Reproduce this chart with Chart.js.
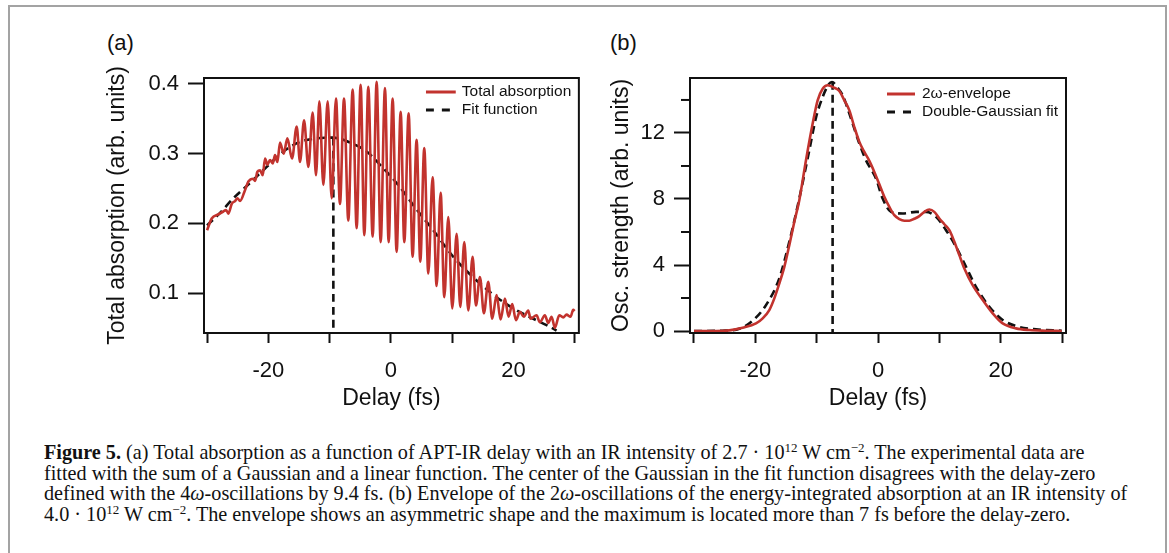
<!DOCTYPE html>
<html>
<head>
<meta charset="utf-8">
<title>Figure 5</title>
<script src="https://cdn.jsdelivr.net/npm/chart.js@4.4.1/dist/chart.umd.min.js"></script>
<style>
  html, body { margin: 0; padding: 0; background: #fff; }
  body { width: 1169px; height: 553px; position: relative; overflow: hidden;
         font-family: 'Liberation Sans', Arial, sans-serif; color: #111; }
  .frame { position: absolute; left: 8px; top: 5px; width: 1155px; height: 600px; border: 2px solid #a3a3a3; }
  canvas { position: absolute; top: 0; }
  #chartA { left: 0; }
  #chartB { left: 590px; }
  .tag { position: absolute; top: 30px; font-size: 22px; line-height: 26px; }
  .caption { position: absolute; left: 44px; top: 442px; font-family: 'Liberation Serif', 'Times New Roman', serif;
             font-size: 20.2px; line-height: 20.5px; white-space: nowrap; color: #111; }
  .caption sup { font-size: 13px; vertical-align: 7px; line-height: 0; }
</style>
</head>
<body>
<div class="frame"></div>
<div class="tag" style="left:107px">(a)</div>
<div class="tag" style="left:610px">(b)</div>
<canvas id="chartA" width="590" height="420"></canvas>
<canvas id="chartB" width="579" height="420"></canvas>
<div class="caption">
  <div><b>Figure 5.</b> (a) Total absorption as a function of APT-IR delay with an IR intensity of 2.7 · 10<sup>12</sup> W cm<sup>−2</sup>. The experimental data are</div>
  <div>fitted with the sum of a Gaussian and a linear function. The center of the Gaussian in the fit function disagrees with the delay-zero</div>
  <div>defined with the 4<i>ω</i>-oscillations by 9.4 fs. (b) Envelope of the 2<i>ω</i>-oscillations of the energy-integrated absorption at an IR intensity of</div>
  <div>4.0 · 10<sup>12</sup> W cm<sup>−2</sup>. The envelope shows an asymmetric shape and the maximum is located more than 7 fs before the delay-zero.</div>
</div>
<script>
// Figure 5 - two panels, delay scans

const INK = '#111';
const RED = '#c2332e';

// Panel (a): total absorption (peaks / troughs)
const delayA = [
    -30.00, -29.24, -28.15, -27.34, -26.90, -26.52, -25.98, -25.43, -25.05, -24.62,
    -23.80, -23.26, -22.45, -22.17, -21.79, -21.36, -20.92, -20.54, -20.16, -19.73,
    -19.29, -18.91, -18.53,
    -18.10, -17.50, -16.90, -16.14, -15.38, -14.84, -14.18, -13.48, -12.77, -12.23,
    -11.68, -11.03, -10.33, -9.67, -8.97, -8.32, -7.66, -6.96, -6.25, -5.60,
    -4.95, -4.35, -3.70, -2.99, -2.34, -1.68, -0.98, -0.38, 0.27, 0.92,
    1.58, 2.17, 2.88, 3.53, 4.18, 4.78, 5.43, 6.09, 6.79, 7.45,
    8.10, 8.70, 9.35, 10.00, 10.71, 11.30, 11.96, 12.61, 13.32, 13.86,
    14.51, 15.16, 15.87, 16.52, 17.23, 17.88, 18.59, 19.18, 19.78, 20.38,
    21.03, 21.68, 22.39, 22.77, 23.75, 24.29, 25.11, 25.65, 26.20, 26.74,
    27.45, 28.10, 28.64, 29.29, 29.73, 29.95
];
const absorptionA = [
    0.190, 0.207, 0.213, 0.217, 0.219, 0.214, 0.228, 0.232, 0.236, 0.232,
    0.248, 0.260, 0.264, 0.261, 0.274, 0.276, 0.269, 0.293, 0.284, 0.291,
    0.286, 0.298, 0.288,
    0.316, 0.300, 0.322, 0.293, 0.339, 0.288, 0.348, 0.281, 0.359, 0.269,
    0.375, 0.255, 0.375, 0.236, 0.379, 0.228, 0.379, 0.204, 0.392, 0.193,
    0.399, 0.183, 0.396, 0.181, 0.403, 0.173, 0.394, 0.173, 0.379, 0.159,
    0.360, 0.173, 0.358, 0.152, 0.320, 0.145, 0.308, 0.128, 0.266, 0.110,
    0.244, 0.094, 0.209, 0.078, 0.185, 0.080, 0.173, 0.075, 0.152, 0.082,
    0.123, 0.071, 0.116, 0.063, 0.097, 0.062, 0.092, 0.066, 0.084, 0.061,
    0.073, 0.066, 0.075, 0.063, 0.068, 0.058, 0.068, 0.057, 0.066, 0.050,
    0.068, 0.065, 0.069, 0.066, 0.076, 0.074
];
const fitDelayA = [
    -30.00, -27.88, -25.71, -22.99, -20.27, -17.55, -14.84, -12.12, -9.40, -6.68,
    -3.97, -1.25, 1.47, 3.64, 6.90, 10.16, 13.97, 17.23, 19.95, 23.21, 25.38, 27.01
];
const fitA = [
    0.197, 0.215, 0.236, 0.258, 0.281, 0.303, 0.317, 0.322, 0.323, 0.316,
    0.303, 0.279, 0.252, 0.226, 0.190, 0.152, 0.118, 0.094, 0.078, 0.063, 0.054, 0.046
];
// center of the Gaussian (vertical marker)
const centerDelayA = [-9.4, -9.4];
const centerLevelA = [0.323, 0.0426];

// Panel (b): 2ω-envelope and double-Gaussian fit
const delayB = [
    -30.00, -26.41, -24.24, -22.07, -19.89, -18.80, -17.72, -16.90, -16.09, -15.27,
    -14.46, -13.64, -12.83, -11.74, -10.65, -9.84, -9.02, -8.21, -7.12, -6.30,
    -5.49, -4.67, -3.86, -3.04, -2.23, -1.41, -0.60, 0.22, 1.03, 1.85,
    2.66, 3.48, 4.29, 5.11, 5.92, 6.74, 7.55, 8.37, 9.18, 10.00,
    10.82, 11.63, 12.45, 13.26, 14.08, 15.43, 17.07, 18.70, 20.33, 22.50,
    24.67, 27.39, 29.95
];
const envelopeB = [
    0, 0, 0.04, 0.20, 0.46, 0.77, 1.27, 1.98, 2.88, 3.89,
    5.20, 6.62, 7.93, 10.35, 12.57, 13.98, 14.68, 14.89, 14.74, 14.54,
    13.98, 13.37, 12.36, 11.46, 10.85, 10.31, 9.64, 8.89, 8.13, 7.52,
    7.02, 6.78, 6.68, 6.68, 6.80, 6.96, 7.22, 7.36, 7.22, 6.82,
    6.47, 6.11, 5.41, 4.60, 3.79, 2.78, 1.88, 1.07, 0.46, 0.16,
    0.06, 0.02, 0
];
const fitDelayB = [
    -30.00, -25.33, -22.61, -20.43, -18.26, -16.09, -14.46, -12.83, -11.20, -10.11,
    -9.02, -8.04, -7.50, -6.58, -5.76, -4.67, -3.04, -1.96, -0.33, 0.76,
    2.12, 4.02, 6.20, 7.83, 9.46, 11.09, 12.72, 14.35, 15.98, 18.15,
    20.33, 22.50, 25.76, 29.95
];
const fitB = [
    0, 0.02, 0.14, 0.63, 1.57, 3.19, 5.41, 8.03, 10.95, 12.93,
    14.18, 14.95, 15.09, 14.74, 14.28, 13.17, 11.36, 10.35, 9.24, 8.03,
    7.22, 7.12, 7.22, 7.22, 6.92, 6.11, 5.10, 3.89, 2.68, 1.47,
    0.67, 0.30, 0.10, 0.02
];
const centerDelayB = [-7.4, -7.4];
const centerLevelB = [15.09, -0.12];

// Axes
const xTicks = [-30, -20, -10, 0, 10, 20, 30];
const xLabels = [-20, 0, 20];
const yTicksA = [0.1, 0.2, 0.3, 0.4];
const yTicksB = [0, 4, 8, 12];
const yMinorB = [2, 6, 10, 14];

Chart.defaults.font.family = "'Liberation Sans', Arial, sans-serif";
Chart.defaults.color = INK;

function points(xs, ys) {
    return xs.map((x, i) => ({ x: x, y: ys[i] }));
}

/**
 * Box around the plot area, minor ticks and the inset legend
 */
const boxPlugin = {
    id: 'boxPlugin',
    afterDatasetsDraw(chart, args, opts) {
        const { ctx, chartArea: a } = chart;
        ctx.save();
        ctx.strokeStyle = INK;
        ctx.lineWidth = 2;
        ctx.strokeRect(a.left, a.top, a.right - a.left, a.bottom - a.top);

        const ys = chart.scales.y;
        (opts.minor || []).forEach(v => {
            const py = ys.getPixelForValue(v);
            ctx.beginPath();
            ctx.moveTo(a.left - 9, py);
            ctx.lineTo(a.left, py);
            ctx.stroke();
        });

        // legend
        const lg = opts.legend;
        ctx.font = '15.5px ' + Chart.defaults.font.family;
        ctx.textBaseline = 'middle';
        ctx.fillStyle = INK;
        let row = 0;
        chart.data.datasets.forEach(ds => {
            if (!ds.label) return;
            const y = a.top + lg.top + row * 18;
            const x0 = a.right - lg.sample;
            const x1 = x0 + lg.sampleWidth;
            ctx.save();
            ctx.beginPath();
            ctx.rect(x0, y - 5, lg.sampleWidth, 10);
            ctx.clip();
            ctx.strokeStyle = ds.borderColor;
            ctx.lineWidth = 3;
            ctx.setLineDash(ds.borderDash ? [8, 8] : []);
            ctx.beginPath();
            ctx.moveTo(x0, y);
            ctx.lineTo(x1, y);
            ctx.stroke();
            ctx.restore();
            ctx.fillText(ds.label, a.right - lg.text, y);
            row++;
        });
        ctx.restore();
    }
};

function xScale(min, max) {
    return {
        type: 'linear',
        position: 'bottom',
        min: min,
        max: max,
        afterBuildTicks: s => { s.ticks = xTicks.map(v => ({ value: v })); },
        afterFit: s => { s.height = 79; },
        ticks: {
            callback: v => xLabels.includes(v) ? String(v) : '',
            autoSkip: false,
            maxRotation: 0,
            padding: 15,
            font: { size: 22 },
            color: INK
        },
        grid: { drawOnChartArea: false, drawTicks: true, tickLength: 10, tickWidth: 2, tickColor: INK },
        border: { display: false },
        title: { display: true, text: 'Delay (fs)', font: { size: 23 }, color: INK, padding: 0 }
    };
}

function yScale(min, max, ticks, width, title, fmt) {
    return {
        type: 'linear',
        position: 'left',
        min: min,
        max: max,
        afterBuildTicks: s => { s.ticks = ticks.map(v => ({ value: v })); },
        afterFit: s => { s.width = width; },
        ticks: { callback: fmt, padding: 9, font: { size: 22 }, color: INK, autoSkip: false },
        grid: { drawOnChartArea: false, drawTicks: true, tickLength: 16, tickWidth: 2, tickColor: INK },
        border: { display: false },
        title: { display: true, text: title, font: { size: 23 }, color: INK, padding: 0 }
    };
}

function redLine(label, data) {
    return {
        label: label, data: data, borderColor: RED, borderWidth: 2.6,
        pointRadius: 0, cubicInterpolationMode: 'monotone', fill: false
    };
}

function dashLine(label, data) {
    return {
        label: label, data: data, borderColor: INK, borderWidth: 2.6, borderDash: [8, 5],
        pointRadius: 0, cubicInterpolationMode: 'monotone', fill: false
    };
}

// Panel (a)
new Chart(document.getElementById('chartA'), {
    type: 'line',
    data: {
        datasets: [
            redLine('Total absorption', points(delayA, absorptionA)),
            dashLine('Fit function', points(fitDelayA, fitA)),
            dashLine(null, points(centerDelayA, centerLevelA))
        ]
    },
    options: {
        responsive: false,
        animation: false,
        layout: { padding: { left: 104, right: 11, top: 78, bottom: 8 } },
        plugins: {
            legend: { display: false },
            tooltip: { enabled: false },
            boxPlugin: { legend: { top: 14, sample: 153, sampleWidth: 30, text: 117 } }
        },
        scales: {
            x: xScale(-30.5, 30.65),
            y: yScale(0.0426, 0.4086, yTicksA, 100, 'Total absorption (arb. units)', v => v.toFixed(1))
        }
    },
    plugins: [boxPlugin]
});

// Panel (b)
new Chart(document.getElementById('chartB'), {
    type: 'line',
    data: {
        datasets: [
            redLine('2ω-envelope', points(delayB, envelopeB)),
            dashLine('Double-Gaussian fit', points(fitDelayB, fitB)),
            dashLine(null, points(centerDelayB, centerLevelB))
        ]
    },
    options: {
        responsive: false,
        animation: false,
        layout: { padding: { left: 18, right: 103, top: 78, bottom: 8 } },
        plugins: {
            legend: { display: false },
            tooltip: { enabled: false },
            boxPlugin: { minor: yMinorB, legend: { top: 16, sample: 179, sampleWidth: 28, text: 144 } }
        },
        scales: {
            x: xScale(-30.65, 30.65),
            y: yScale(-0.12, 15.33, yTicksB, 82, 'Osc. strength (arb. units)', v => String(v))
        }
    },
    plugins: [boxPlugin]
});
</script>
</body>
</html>
